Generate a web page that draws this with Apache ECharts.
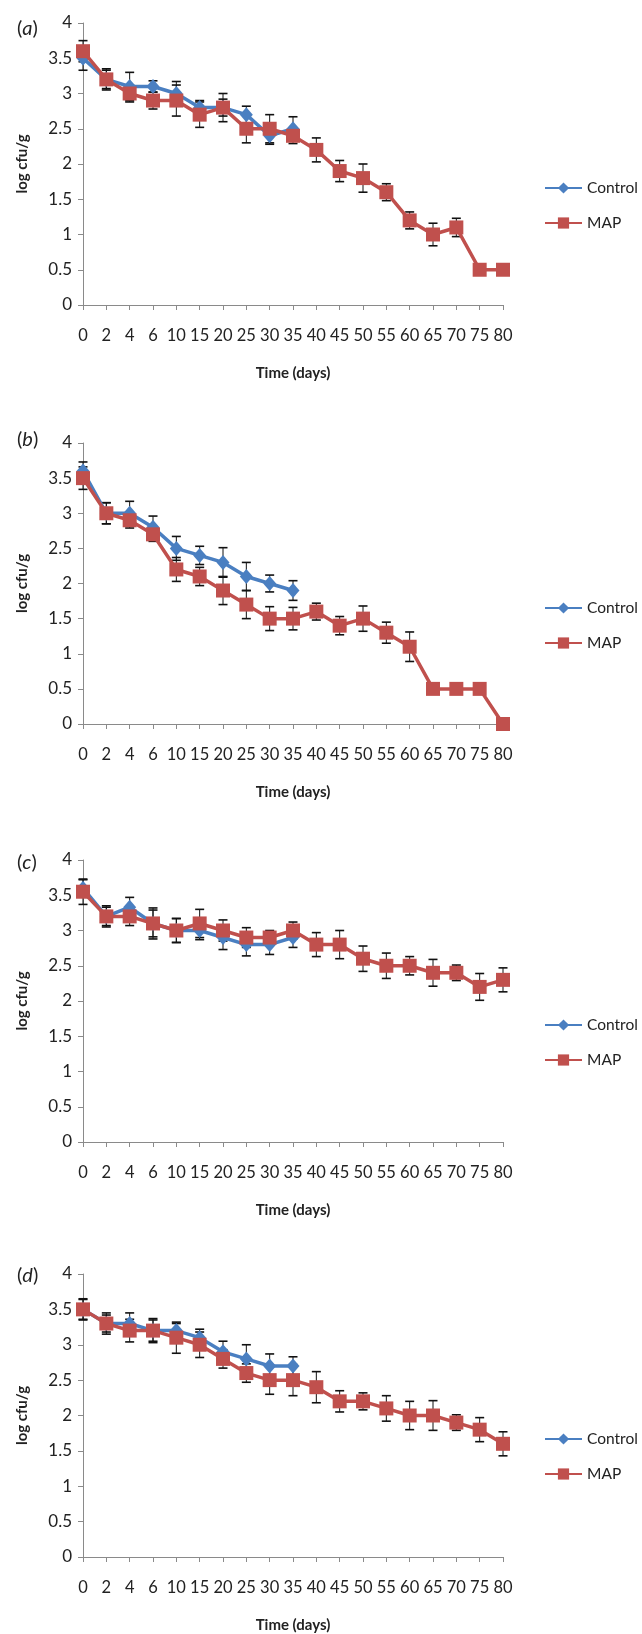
<!DOCTYPE html>
<html>
<head>
<meta charset="utf-8">
<script src="https://cdn.jsdelivr.net/npm/echarts@6/dist/echarts.min.js"></script>
<style>
  html, body { margin: 0; padding: 0; background: #fff; }
  #main { width: 642px; height: 1634px; }
</style>
</head>
<body>
<div id="main"></div>
<script>
// storage days (category axis)
var days = ['0', '2', '4', '6', '10', '15', '20', '25', '30', '35', '40', '45', '50', '55', '60', '65', '70', '75', '80'];

// (a)
var controlA    = [3.5, 3.2, 3.1, 3.1, 3.0, 2.8, 2.8, 2.7, 2.4, 2.5];
var controlErrA = [0.17, 0.15, 0.2, 0.08, 0.17, 0.1, 0.12, 0.12, 0.12, 0.17];
var mapA        = [3.6, 3.2, 3.0, 2.9, 2.9, 2.7, 2.8, 2.5, 2.5, 2.4, 2.2, 1.9, 1.8, 1.6, 1.2, 1.0, 1.1, 0.5, 0.5];
var mapErrA     = [0.15, 0.13, 0.12, 0.12, 0.22, 0.18, 0.2, 0.2, 0.2, 0.11, 0.17, 0.15, 0.2, 0.12, 0.12, 0.16, 0.13, 0, 0];

// (b)
var controlB    = [3.6, 3.0, 3.0, 2.8, 2.5, 2.4, 2.3, 2.1, 2.0, 1.9];
var controlErrB = [0.13, 0.15, 0.17, 0.16, 0.17, 0.13, 0.21, 0.2, 0.12, 0.14];
var mapB        = [3.5, 3.0, 2.9, 2.7, 2.2, 2.1, 1.9, 1.7, 1.5, 1.5, 1.6, 1.4, 1.5, 1.3, 1.1, 0.5, 0.5, 0.5, 0.0];
var mapErrB     = [0.16, 0.15, 0.11, 0.1, 0.17, 0.13, 0.2, 0.2, 0.17, 0.16, 0.12, 0.13, 0.18, 0.15, 0.21, 0, 0, 0, 0];

// (c)
var controlC    = [3.6, 3.2, 3.33, 3.1, 3.0, 3.0, 2.9, 2.8, 2.8, 2.9];
var controlErrC = [0.12, 0.13, 0.14, 0.19, 0.17, 0.13, 0.17, 0.16, 0.14, 0.14];
var mapC        = [3.55, 3.2, 3.2, 3.1, 3.0, 3.1, 3.0, 2.9, 2.9, 3.0, 2.8, 2.8, 2.6, 2.5, 2.5, 2.4, 2.4, 2.2, 2.3];
var mapErrC     = [0.18, 0.15, 0.13, 0.22, 0.17, 0.2, 0.15, 0.14, 0.1, 0.12, 0.17, 0.2, 0.18, 0.18, 0.13, 0.19, 0.11, 0.19, 0.17];

// (d)
var controlD    = [3.5, 3.3, 3.3, 3.2, 3.2, 3.1, 2.9, 2.8, 2.7, 2.7];
var controlErrD = [0.14, 0.12, 0.15, 0.17, 0.1, 0.12, 0.15, 0.2, 0.17, 0.13];
var mapD        = [3.5, 3.3, 3.2, 3.2, 3.1, 3.0, 2.8, 2.6, 2.5, 2.5, 2.4, 2.2, 2.2, 2.1, 2.0, 2.0, 1.9, 1.8, 1.6];
var mapErrD     = [0.15, 0.15, 0.16, 0.15, 0.22, 0.18, 0.13, 0.13, 0.2, 0.22, 0.22, 0.15, 0.12, 0.18, 0.2, 0.21, 0.11, 0.17, 0.17];

var panels = [
  { tag: 'a', control: controlA, controlErr: controlErrA, map: mapA, mapErr: mapErrA, top: 23,   height: 282, tagTop: 14 },
  { tag: 'b', control: controlB, controlErr: controlErrB, map: mapB, mapErr: mapErrB, top: 443,  height: 281, tagTop: 425 },
  { tag: 'c', control: controlC, controlErr: controlErrC, map: mapC, mapErr: mapErrC, top: 860,  height: 282, tagTop: 848 },
  { tag: 'd', control: controlD, controlErr: controlErrD, map: mapD, mapErr: mapErrD, top: 1274, height: 283, tagTop: 1261 }
];

var FONT = 'Lato, "Open Sans", sans-serif';
var BLUE = '#4a7fc1';
var RED = '#c0504d';
var AXIS = '#8a8a8a';

function renderErr(params, api) {
  var v = api.value(1), e = api.value(2);
  if (!e) return null;
  var hi = api.coord([api.value(0), v + e]);
  var lo = api.coord([api.value(0), v - e]);
  var w = 4.5;
  var st = { stroke: '#111', lineWidth: 1 };
  var cap = { stroke: '#111', lineWidth: 1.6 };
  return {
    type: 'group',
    children: [
      { type: 'line', shape: { x1: hi[0], y1: hi[1], x2: lo[0], y2: lo[1] }, style: st },
      { type: 'line', shape: { x1: hi[0] - w, y1: hi[1], x2: hi[0] + w, y2: hi[1] }, style: cap },
      { type: 'line', shape: { x1: lo[0] - w, y1: lo[1], x2: lo[0] + w, y2: lo[1] }, style: cap }
    ]
  };
}

function errData(vals, errs) {
  return vals.map(function (v, i) { return [i, v, errs[i]]; });
}

var option = {
  animation: false,
  backgroundColor: '#fff',
  title: [], grid: [], xAxis: [], yAxis: [], legend: [], series: []
};

panels.forEach(function (p, k) {
  option.title.push({
    text: '({i|' + p.tag + '})',
    left: 12, top: p.tagTop,
    textStyle: {
      fontFamily: FONT, fontSize: 20, fontWeight: 'normal', color: '#222',
      rich: { i: { fontFamily: FONT, fontSize: 20, fontStyle: 'italic', color: '#222' } }
    }
  });
  option.grid.push({ left: 83, width: 420, top: p.top, height: p.height });
  option.xAxis.push({
    type: 'category', gridIndex: k, data: days, boundaryGap: false,
    name: 'Time (days)', nameLocation: 'middle', nameGap: 61,
    nameTextStyle: { fontFamily: FONT, fontSize: 15, fontWeight: 'bold', color: '#222' },
    axisLine: { lineStyle: { color: AXIS, width: 1 } },
    axisTick: { show: true, interval: 0, length: 5, lineStyle: { color: AXIS } },
    axisLabel: { interval: 0, fontFamily: FONT, fontSize: 16.5, color: '#222', margin: 22 },
    splitLine: { show: false }
  });
  option.yAxis.push({
    type: 'value', gridIndex: k, min: 0, max: 4, interval: 0.5,
    name: 'log cfu/g', nameLocation: 'middle', nameGap: 53,
    nameTextStyle: { fontFamily: FONT, fontSize: 15, fontWeight: 'bold', color: '#222' },
    axisLine: { show: true, lineStyle: { color: AXIS, width: 1 } },
    axisTick: { show: true, length: 5, lineStyle: { color: AXIS } },
    axisLabel: { fontFamily: FONT, fontSize: 17, color: '#222', margin: 11 },
    splitLine: { show: false }
  });
  option.legend.push({
    data: ['Control', 'MAP'],
    orient: 'vertical', left: 539, top: p.top + 152,
    itemWidth: 37, itemHeight: 14, itemGap: 19,
    selectedMode: false,
    textStyle: { fontFamily: FONT, fontSize: 15.5, color: '#222' }
  });
  option.series.push(
    {
      name: 'errControl' + k, type: 'custom', xAxisIndex: k, yAxisIndex: k,
      data: errData(p.control, p.controlErr), renderItem: renderErr, z: 1, silent: true
    },
    {
      name: 'errMap' + k, type: 'custom', xAxisIndex: k, yAxisIndex: k,
      data: errData(p.map, p.mapErr), renderItem: renderErr, z: 1, silent: true
    },
    {
      name: 'Control', type: 'line', xAxisIndex: k, yAxisIndex: k, data: p.control,
      symbol: 'diamond', symbolSize: [13, 15], z: 3,
      lineStyle: { color: BLUE, width: 3.5 }, itemStyle: { color: BLUE }
    },
    {
      name: 'MAP', type: 'line', xAxisIndex: k, yAxisIndex: k, data: p.map,
      symbol: 'rect', symbolSize: 14, z: 4,
      lineStyle: { color: RED, width: 3.5 }, itemStyle: { color: RED }
    }
  );
});

var chart = echarts.init(document.getElementById('main'));
chart.setOption(option);
</script>
</body>
</html>
